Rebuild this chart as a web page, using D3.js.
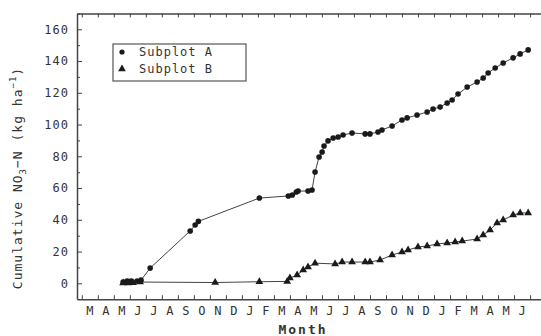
<!DOCTYPE html>
<meta charset="utf-8">
<style>
    body { margin: 0; background: #fff; }
    svg { display: block; }
    .lbl { font-family: "DejaVu Sans Mono", monospace; fill: #333; }
    .axis path, .axis line { stroke: #444; }
    .axis text { font-family: "DejaVu Sans Mono", monospace; font-size: 12px; fill: #333; letter-spacing: 1px; }
</style>
<body>
<svg width="541" height="336"></svg>
<script src="https://d3js.org/d3.v7.min.js"></script>
<script>
    // month labels, starting in March of the first year
    var months = ["M","A","M","J","J","A","S","O","N","D",
                  "J","F","M","A","M","J","J","A","S","O","N","D",
                  "J","F","M","A","M","J","J","A"];
    var yMajor = [0, 20, 40, 60, 80, 100, 120, 140, 160];
    var yMinor = [10, 30, 50, 70, 90, 110, 130, 150, 170];

    // Subplot A (month index from 1 March, cumulative kg/ha)
    var aMonth = [2.58, 2.83, 3.08, 3.45, 3.7, 4.27, 6.77, 7.08, 7.28, 11.09,
                  12.9, 13.15, 13.4, 13.51, 14.13, 14.38, 14.57, 14.82, 15.01, 15.13,
                  15.38, 15.7, 16.01, 16.32, 16.88, 17.7, 18.0, 18.5, 18.75, 19.38,
                  20.0, 20.32, 20.94, 21.57, 21.94, 22.38, 22.82, 23.13, 23.5, 24.07,
                  24.69, 25.07, 25.38, 25.82, 26.32, 26.94, 27.38, 27.88];
    var aValue = [0.8, 1.4, 1.5, 1.5, 2, 9.6, 33, 36.7, 39, 53.7,
                  55, 55.6, 57.5, 58.1, 58.1, 58.8, 70.1, 79.6, 82.7, 86.5,
                  89.7, 91.5, 92.2, 93.4, 94.7, 94.1, 94.1, 95.3, 96.6, 99.1,
                  102.9, 104.2, 106, 107.9, 109.8, 111, 113.6, 115.5, 119.2, 123.6,
                  126.8, 129.3, 132.5, 135.6, 138.8, 142, 144.5, 147];

    // Subplot B
    var bMonth = [2.58, 2.9, 3.2, 3.64, 8.33, 11.09, 12.83, 13.0, 13.45, 13.83,
                  14.13, 14.57, 15.82, 16.26, 16.88, 17.7, 18.0, 18.63, 19.38, 20.0,
                  20.38, 21.0, 21.57, 22.19, 22.82, 23.32, 23.76, 24.69, 25.07, 25.5,
                  25.94, 26.32, 26.94, 27.38, 27.88];
    var bValue = [0.2, 0.2, 0.3, 0.8, 0.5, 1, 1.2, 3.3, 5.2, 8.4,
                  10.3, 12.7, 12.2, 13.4, 13.4, 13.4, 13.4, 14.7, 17.8, 19.7,
                  21, 22.9, 23.5, 24.8, 25.4, 26, 26.6, 27.9, 30.4, 33.6,
                  38, 39.9, 43, 44.3, 44.3];

    var svg = d3.select("svg"),
        width = +svg.attr("width");

    var x = d3.scaleLinear().domain([-0.3, 30]).range([77, 77 + 30.3 * 16.01]);
    var y = d3.scaleLinear().domain([-10, 170]).range([299.2, 13.4]);

    // frame / axes
    svg.append("g").attr("class", "axis")
        .attr("transform", "translate(0," + y(-10) + ")")
        .call(d3.axisBottom(x).tickValues(d3.range(0, 31)).tickSize(-4).tickSizeOuter(0).tickFormat(""))
        .select(".domain").attr("stroke-width", 1.5);
    svg.append("g").attr("class", "axis")
        .attr("transform", "translate(0," + y(170) + ")")
        .call(d3.axisTop(x).tickValues(d3.range(0, 31)).tickSize(-4).tickSizeOuter(0).tickFormat(""))
        .select(".domain").attr("stroke-width", 1.5);
    svg.append("g").attr("class", "axis")
        .attr("transform", "translate(" + x(-0.3) + ",0)")
        .call(d3.axisLeft(y).tickValues(yMajor).tickSize(-5).tickSizeOuter(0).tickPadding(8))
        .select(".domain").attr("stroke-width", 1.5);
    var minor = svg.append("g").attr("class", "axis")
        .attr("transform", "translate(" + x(-0.3) + ",0)")
        .call(d3.axisLeft(y).tickValues(yMinor).tickSize(-3).tickFormat(""));
    minor.select(".domain").remove();

    // month labels centred in each month (only those that fit in the window)
    var shown = months.map(function (d, i) { return {t: d, i: i}; })
        .filter(function (d) { return x(d.i + 0.5) + 5 < width; });
    svg.append("g").selectAll("text")
        .data(shown).enter().append("text")
        .attr("class", "lbl")
        .attr("x", function (d) { return x(d.i + 0.5); })
        .attr("y", 315)
        .attr("text-anchor", "middle")
        .style("font-size", "12px")
        .text(function (d) { return d.t; });

    svg.append("text").attr("class", "lbl")
        .attr("x", 303).attr("y", 334)
        .attr("text-anchor", "middle")
        .style("font-size", "13px").style("font-weight", "bold").style("letter-spacing", "2px")
        .text("Month");

    var yt = svg.append("text").attr("class", "lbl")
        .attr("transform", "translate(22,178) rotate(-90)")
        .attr("text-anchor", "middle")
        .style("font-size", "13px").style("letter-spacing", "1px");
    yt.append("tspan").text("Cumulative NO");
    yt.append("tspan").attr("dy", 4).style("font-size", "9px").text("3");
    yt.append("tspan").attr("dy", -4).text("\u2212N (kg ha");
    yt.append("tspan").attr("dy", -6).style("font-size", "9px").text("\u22121");
    yt.append("tspan").attr("dy", 6).text(")");

    // series
    var line = d3.line()
        .x(function (d) { return x(d[0]); })
        .y(function (d) { return y(d[1]); });
    var aData = d3.zip(aMonth, aValue);
    var bData = d3.zip(bMonth, bValue);

    svg.append("path").datum(aData)
        .attr("fill", "none").attr("stroke", "#444").attr("stroke-width", 1)
        .attr("d", line);
    svg.append("path").datum(bData)
        .attr("fill", "none").attr("stroke", "#444").attr("stroke-width", 1)
        .attr("d", line);

    svg.append("g").selectAll("circle")
        .data(aData).enter().append("circle")
        .attr("cx", function (d) { return x(d[0]); })
        .attr("cy", function (d) { return y(d[1]); })
        .attr("r", 2.8)
        .attr("fill", "#1a1a1a");

    var tri = d3.symbol().type(d3.symbolTriangle).size(26);
    svg.append("g").selectAll("path")
        .data(bData).enter().append("path")
        .attr("transform", function (d) { return "translate(" + x(d[0]) + "," + y(d[1]) + ")"; })
        .attr("d", tri)
        .attr("fill", "#1a1a1a");

    // legend
    var lg = svg.append("g");
    lg.append("rect").attr("x", 113).attr("y", 44).attr("width", 133).attr("height", 37)
        .attr("fill", "#fff").attr("stroke", "#555").attr("stroke-width", 1.2);
    lg.append("circle").attr("cx", 122).attr("cy", 52).attr("r", 2.6).attr("fill", "#1a1a1a");
    lg.append("path").attr("transform", "translate(122,69)").attr("d", tri).attr("fill", "#1a1a1a");
    lg.append("text").attr("class", "lbl").attr("x", 139).attr("y", 56)
        .style("font-size", "12px").style("letter-spacing", "1px").text("Subplot A");
    lg.append("text").attr("class", "lbl").attr("x", 139).attr("y", 73)
        .style("font-size", "12px").style("letter-spacing", "1px").text("Subplot B");
</script>
</body>
